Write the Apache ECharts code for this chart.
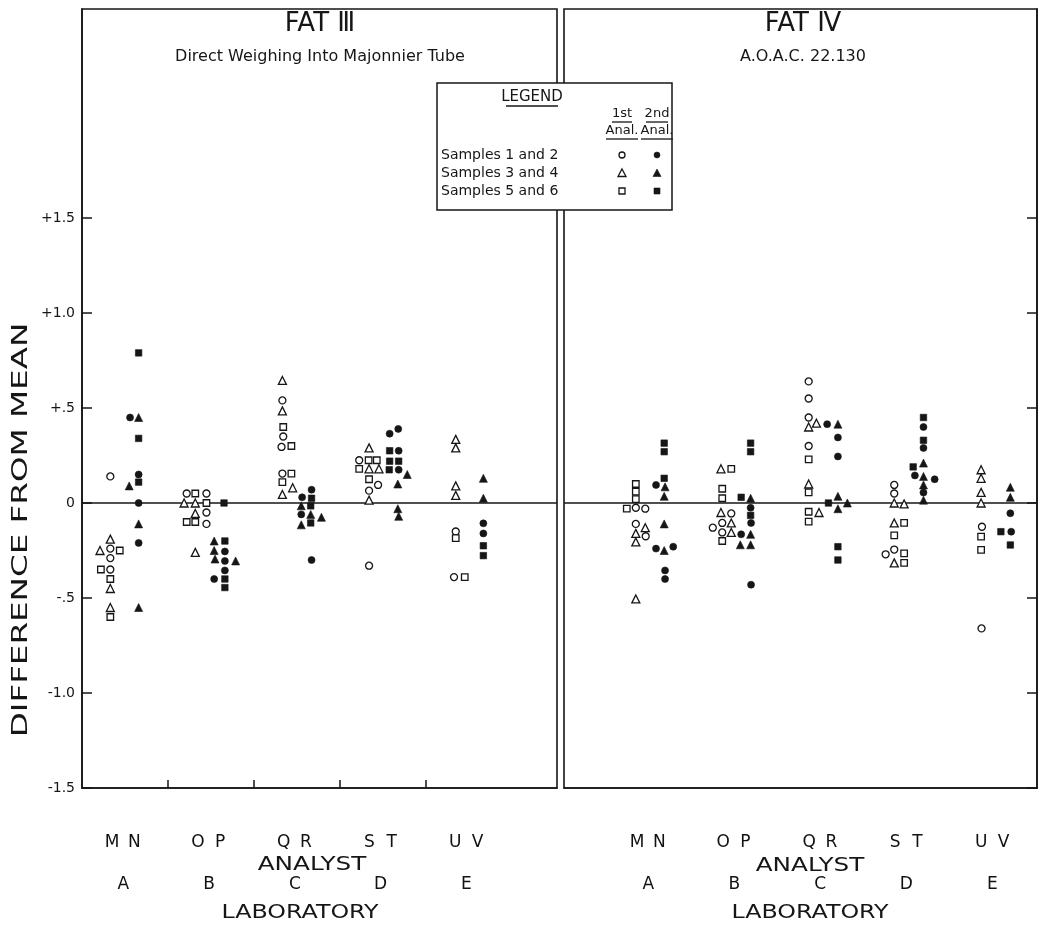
<!DOCTYPE html>
<html>
<head>
<meta charset="utf-8">
<script src="https://cdn.jsdelivr.net/npm/echarts@6/dist/echarts.min.js"></script>
<style>
  html, body { margin: 0; padding: 0; background: #fff; }
  #chart { width: 1039px; height: 930px; }
</style>
</head>
<body>
<div id="chart"></div>
<script>
// Laboratories and the two analysts of each laboratory
const labs = ['A', 'B', 'C', 'D', 'E'];
const analysts = [['M', 'N'], ['O', 'P'], ['Q', 'R'], ['S', 'T'], ['U', 'V']];
const yTickValues = [-1.5, -1, -0.5, 0, 0.5, 1, 1.5];
const yTickLabels = ['-1.5', '-1.0', '-.5', '0', '+.5', '+1.0', '+1.5'];
const legendRows = ['Samples 1 and 2', 'Samples 3 and 4', 'Samples 5 and 6'];

// Each point: [laboratory index, sideways offset inside the laboratory column, difference from mean]
// FAT III - direct weighing into Majonnier tube
const fat3OpenCircles = [
  [0,-0.17,0.14],[0,-0.17,-0.24],[0,-0.17,-0.29],[0,-0.17,-0.35],
  [1,-0.28,0.05],[1,-0.05,0.05],[1,-0.05,-0.05],[1,-0.05,-0.11],
  [2,-0.165,0.54],[2,-0.155,0.35],[2,-0.175,0.295],[2,-0.165,0.155],
  [3,-0.27,0.225],[3,-0.05,0.095],[3,-0.155,0.065],[3,-0.155,-0.33],
  [4,-0.145,-0.15],[4,-0.165,-0.39]
];
const fat3OpenTriangles = [
  [0,-0.17,-0.19],[0,-0.29,-0.25],[0,-0.17,-0.45],[0,-0.17,-0.55],
  [1,-0.31,0.0],[1,-0.18,0.0],[1,-0.18,-0.055],[1,-0.18,-0.26],
  [2,-0.165,0.645],[2,-0.165,0.485],[2,-0.045,0.08],[2,-0.165,0.045],
  [3,-0.155,0.29],[3,-0.155,0.18],[3,-0.04,0.18],[3,-0.155,0.015],
  [4,-0.145,0.335],[4,-0.145,0.29],[4,-0.145,0.09],[4,-0.145,0.04]
];
const fat3OpenSquares = [
  [0,-0.06,-0.25],[0,-0.28,-0.35],[0,-0.17,-0.40],[0,-0.17,-0.60],
  [1,-0.18,0.05],[1,-0.05,0.0],[1,-0.18,-0.10],[1,-0.28,-0.10],
  [2,-0.155,0.40],[2,-0.06,0.30],[2,-0.06,0.155],[2,-0.165,0.11],
  [3,-0.16,0.225],[3,-0.065,0.225],[3,-0.27,0.18],[3,-0.155,0.125],
  [4,-0.145,-0.185],[4,-0.04,-0.39]
];
const fat3FilledCircles = [
  [0,0.06,0.45],[0,0.16,0.15],[0,0.16,0.0],[0,0.16,-0.21],
  [1,0.165,-0.255],[1,0.165,-0.305],[1,0.165,-0.355],[1,0.04,-0.40],
  [2,0.175,0.07],[2,0.065,0.03],[2,0.055,-0.06],[2,0.175,-0.30],
  [3,0.085,0.365],[3,0.185,0.39],[3,0.19,0.275],[3,0.19,0.175],
  [4,0.177,-0.107],[4,0.177,-0.16]
];
const fat3FilledTriangles = [
  [0,0.16,0.45],[0,0.05,0.09],[0,0.16,-0.11],[0,0.16,-0.55],
  [1,0.04,-0.20],[1,0.04,-0.25],[1,0.05,-0.295],[1,0.29,-0.305],
  [2,0.055,-0.015],[2,0.165,-0.06],[2,0.29,-0.075],[2,0.055,-0.115],
  [3,0.29,0.15],[3,0.18,0.10],[3,0.18,-0.03],[3,0.19,-0.07],
  [4,0.177,0.13],[4,0.177,0.025]
];
const fat3FilledSquares = [
  [0,0.16,0.79],[0,0.16,0.34],[0,0.16,0.11],
  [1,0.155,0.0],[1,0.165,-0.20],[1,0.165,-0.40],[1,0.165,-0.445],
  [2,0.175,0.025],[2,0.165,-0.015],[2,0.165,-0.105],
  [3,0.085,0.275],[3,0.085,0.22],[3,0.19,0.22],[3,0.08,0.175],
  [4,0.177,-0.225],[4,0.177,-0.277]
];

// FAT IV - A.O.A.C. 22.130
const fat4OpenCircles = [
  [0,-0.165,-0.025],[0,-0.055,-0.03],[0,-0.165,-0.11],[0,-0.05,-0.175],
  [1,-0.055,-0.055],[1,-0.16,-0.105],[1,-0.27,-0.13],[1,-0.16,-0.155],
  [2,-0.155,0.64],[2,-0.155,0.55],[2,-0.155,0.45],[2,-0.155,0.30],
  [3,-0.16,0.095],[3,-0.16,0.05],[3,-0.16,-0.245],[3,-0.26,-0.27],
  [4,-0.14,-0.125],[4,-0.145,-0.66]
];
const fat4OpenTriangles = [
  [0,-0.055,-0.13],[0,-0.165,-0.16],[0,-0.165,-0.205],[0,-0.165,-0.505],
  [1,-0.175,0.18],[1,-0.175,-0.05],[1,-0.055,-0.105],[1,-0.055,-0.155],
  [2,-0.155,0.40],[2,-0.065,0.42],[2,-0.155,0.10],[2,-0.035,-0.05],
  [3,-0.16,0.0],[3,-0.045,-0.005],[3,-0.16,-0.105],[3,-0.16,-0.315],
  [4,-0.15,0.175],[4,-0.15,0.13],[4,-0.15,0.056],[4,-0.15,0.0]
];
const fat4OpenSquares = [
  [0,-0.165,0.10],[0,-0.165,0.06],[0,-0.165,0.02],[0,-0.27,-0.03],
  [1,-0.055,0.18],[1,-0.16,0.075],[1,-0.16,0.025],[1,-0.16,-0.20],
  [2,-0.155,0.23],[2,-0.155,0.056],[2,-0.155,-0.046],[2,-0.155,-0.098],
  [3,-0.045,-0.105],[3,-0.16,-0.17],[3,-0.045,-0.265],[3,-0.045,-0.315],
  [4,-0.15,-0.177],[4,-0.15,-0.247]
];
const fat4FilledCircles = [
  [0,0.07,0.095],[0,0.07,-0.24],[0,0.27,-0.23],[0,0.175,-0.355],[0,0.175,-0.40],
  [1,0.17,-0.025],[1,0.175,-0.105],[1,0.06,-0.165],[1,0.175,-0.43],
  [2,0.06,0.415],[2,0.185,0.345],[2,0.185,0.245],
  [3,0.18,0.40],[3,0.18,0.29],[3,0.08,0.145],[3,0.31,0.125],[3,0.18,0.055],
  [4,0.19,-0.054],[4,0.2,-0.151]
];
const fat4FilledTriangles = [
  [0,0.175,0.085],[0,0.165,0.035],[0,0.165,-0.11],[0,0.165,-0.25],
  [1,0.17,0.025],[1,0.17,-0.165],[1,0.05,-0.22],[1,0.17,-0.22],
  [2,0.185,0.415],[2,0.185,0.035],[2,0.295,0.0],[2,0.185,-0.03],
  [3,0.18,0.21],[3,0.18,0.14],[3,0.18,0.095],[3,0.18,0.015],
  [4,0.19,0.083],[4,0.19,0.03]
];
const fat4FilledSquares = [
  [0,0.165,0.315],[0,0.165,0.27],[0,0.165,0.13],
  [1,0.17,0.315],[1,0.17,0.27],[1,0.06,0.03],[1,0.17,-0.065],
  [2,0.075,0.0],[2,0.185,-0.23],[2,0.185,-0.30],
  [3,0.18,0.45],[3,0.18,0.33],[3,0.06,0.19],
  [4,0.08,-0.151],[4,0.19,-0.221]
];

const INK = '#161616';
const FONT = '"DejaVu Sans", "Noto Sans CJK SC", sans-serif';
const shapes = {
  circle:   { symbol: 'circle',   size: 7 },
  triangle: { symbol: 'triangle', size: 8 },
  square:   { symbol: 'rect',     size: 6.5 }
};

function markSeries(points, panel, shape, filled) {
  return {
    type: 'scatter',
    xAxisIndex: panel, yAxisIndex: panel,
    symbol: shapes[shape].symbol,
    symbolSize: shapes[shape].size,
    data: points.map(p => [p[0] + 0.5 + p[1], p[2]]),
    itemStyle: filled
      ? { color: INK, borderColor: INK, borderWidth: 0.6, opacity: 1 }
      : { color: '#fff', borderColor: INK, borderWidth: 1.3, opacity: 1 },
    z: 4, silent: true
  };
}

function zeroLine(panel, xMin, xMax) {
  return {
    type: 'line', xAxisIndex: panel, yAxisIndex: panel,
    data: [[xMin, 0], [xMax, 0]],
    symbol: 'none', lineStyle: { color: INK, width: 1.6 },
    z: 2, silent: true
  };
}

// Analyst letters and laboratory letters below each panel
function letterSeries(panel) {
  const data = [];
  analysts.forEach((pair, i) => {
    data.push({ value: [i + 0.5 - 0.15, -1.5], name: pair[0] });
    data.push({ value: [i + 0.5 + 0.11, -1.5], name: pair[1] });
  });
  labs.forEach((lab, i) => {
    data.push({ value: [i + 0.5 - 0.02, -1.5], name: lab, label: { offset: [0, 97] } });
  });
  return {
    type: 'scatter', xAxisIndex: panel, yAxisIndex: panel,
    symbol: 'circle', symbolSize: 1, itemStyle: { color: '#fff', opacity: 0 },
    clip: false, silent: true, z: 5,
    data,
    label: {
      show: true, position: 'inside', offset: [0, 55],
      formatter: p => p.name, fontSize: 17, color: '#111', opacity: 1,
      textBorderWidth: 0, fontFamily: FONT
    }
  };
}

const panels = [
  { left: 82, width: 475, xMin: 0, xMax: 5.535 },
  { left: 564, width: 473, xMin: -0.5, xMax: 5.0 }
];

const option = {
  backgroundColor: '#fff',
  animation: false,
  grid: panels.map(p => ({
    left: p.left, top: 9, width: p.width, height: 779,
    show: true, borderColor: INK, borderWidth: 1.6, backgroundColor: 'transparent'
  })),
  xAxis: panels.map((p, i) => ({
    gridIndex: i, type: 'value', min: p.xMin, max: p.xMax,
    position: 'bottom',
    axisLine: { show: true, onZero: false, lineStyle: { color: INK, width: 1.6 } },
    axisTick: i === 0
      ? { show: true, inside: true, length: 8, customValues: [1, 2, 3, 4], lineStyle: { color: INK, width: 1.5 } }
      : { show: false },
    axisLabel: { show: false },
    splitLine: { show: false }
  })),
  yAxis: panels.map((p, i) => ({
    gridIndex: i, type: 'value', min: -1.5, max: 2.6, interval: 0.5,
    position: i === 0 ? 'left' : 'right',
    axisLine: { show: true, onZero: false, lineStyle: { color: INK, width: 1.6 } },
    axisTick: { show: true, inside: true, length: 10, customValues: yTickValues,
      lineStyle: { color: INK, width: 1.5 } },
    axisLabel: i === 0 ? {
      show: true, customValues: yTickValues, margin: 7,
      formatter: v => yTickLabels[yTickValues.indexOf(v)],
      fontSize: 14, color: INK, fontFamily: FONT
    } : { show: false },
    splitLine: { show: false }
  })),
  series: [
    zeroLine(0, panels[0].xMin, panels[0].xMax),
    zeroLine(1, panels[1].xMin, panels[1].xMax),
    markSeries(fat3OpenCircles, 0, 'circle', false),
    markSeries(fat3OpenTriangles, 0, 'triangle', false),
    markSeries(fat3OpenSquares, 0, 'square', false),
    markSeries(fat3FilledCircles, 0, 'circle', true),
    markSeries(fat3FilledTriangles, 0, 'triangle', true),
    markSeries(fat3FilledSquares, 0, 'square', true),
    markSeries(fat4OpenCircles, 1, 'circle', false),
    markSeries(fat4OpenTriangles, 1, 'triangle', false),
    markSeries(fat4OpenSquares, 1, 'square', false),
    markSeries(fat4FilledCircles, 1, 'circle', true),
    markSeries(fat4FilledTriangles, 1, 'triangle', true),
    markSeries(fat4FilledSquares, 1, 'square', true),
    letterSeries(0),
    letterSeries(1)
  ],
  graphic: buildGraphics()
};

function txt(text, x, y, size, opts) {
  opts = opts || {};
  return {
    type: 'text', x, y, rotation: opts.rotation || 0,
    scaleX: opts.scaleX || 1, z: 100,
    style: { text, fontSize: size, fontFamily: FONT, fill: INK,
      align: opts.align || 'center', verticalAlign: 'middle' }
  };
}
function rule(x1, y1, x2, y2, w) {
  return { type: 'line', z: 100, shape: { x1, y1, x2, y2 },
    style: { stroke: INK, lineWidth: w || 1.3 } };
}

function buildGraphics() {
  const g = [];
  // panel headings
  g.push(txt('FAT \u2162', 320, 24, 26));
  g.push(txt('Direct Weighing Into Majonnier Tube', 320, 57, 16));
  g.push(txt('FAT \u2163', 803, 24, 26));
  g.push(txt('A.O.A.C. 22.130', 803, 57, 16));
  // axis titles
  g.push(txt('DIFFERENCE FROM MEAN', 22, 530, 21, { rotation: Math.PI / 2, scaleX: 1.55 }));
  g.push(txt('ANALYST', 312, 865, 19, { scaleX: 1.3 }));
  g.push(txt('ANALYST', 810, 866, 19, { scaleX: 1.3 }));
  g.push(txt('LABORATORY', 300, 913, 19, { scaleX: 1.25 }));
  g.push(txt('LABORATORY', 810, 913, 19, { scaleX: 1.25 }));

  // legend box
  const bx = 437, by = 83, bw = 235, bh = 127;
  g.push({ type: 'rect', z: 99, shape: { x: bx, y: by, width: bw, height: bh },
    style: { fill: '#fff', stroke: INK, lineWidth: 1.5 } });
  g.push(txt('LEGEND', 532, 97, 15));
  g.push(rule(506, 106, 558, 106));
  const colX = [622, 657];
  g.push(txt('1st', colX[0], 114, 13));
  g.push(txt('2nd', colX[1], 114, 13));
  g.push(rule(colX[0] - 10, 122, colX[0] + 10, 122));
  g.push(rule(colX[1] - 11, 122, colX[1] + 11, 122));
  g.push(txt('Anal.', colX[0], 131, 13));
  g.push(txt('Anal.', colX[1], 131, 13));
  g.push(rule(colX[0] - 16, 139, colX[0] + 16, 139));
  g.push(rule(colX[1] - 16, 139, colX[1] + 16, 139));
  const rowY = [155, 173, 191];
  legendRows.forEach((label, i) => {
    g.push(txt(label, 441, rowY[i], 14, { align: 'left' }));
  });
  [false, true].forEach((filled, c) => {
    const style = filled
      ? { fill: INK, stroke: INK, lineWidth: 0.6 }
      : { fill: '#fff', stroke: INK, lineWidth: 1.3 };
    const cx = colX[c];
    g.push({ type: 'circle', z: 101, shape: { cx, cy: rowY[0], r: 3 }, style });
    g.push({ type: 'polygon', z: 101,
      shape: { points: [[cx, rowY[1] - 4], [cx + 4, rowY[1] + 3.5], [cx - 4, rowY[1] + 3.5]] }, style });
    g.push({ type: 'rect', z: 101, shape: { x: cx - 3, y: rowY[2] - 3, width: 6, height: 6 }, style });
  });
  return g;
}

const chart = echarts.init(document.getElementById('chart'), null, { renderer: 'canvas' });
chart.setOption(option);
</script>
</body>
</html>
